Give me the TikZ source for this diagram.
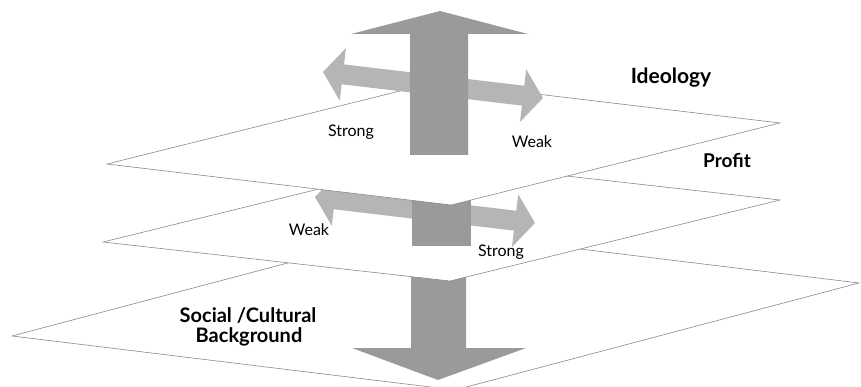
\documentclass[tikz,border=0pt]{standalone}
\usepackage{fontspec}
\setmainfont{Lato}
\begin{document}
\begin{tikzpicture}[x=1pt,y=-1pt,
  plane/.style={fill=white,draw=planeedge,line width=0.6pt,line join=miter},
  shaftarrow/.style={fill=arrowdark,draw=none},
  sidearrow/.style={fill=arrowlight,draw=none},
  levellabel/.style={font=\fontsize{19}{22}\selectfont\bfseries,anchor=base,inner sep=0pt},
  poslabel/.style={font=\fontsize{16}{18}\selectfont,anchor=base,inner sep=0pt}]
\definecolor{planeedge}{HTML}{8A8A8A}
\definecolor{arrowdark}{HTML}{9A9A9A}
\definecolor{arrowlight}{HTML}{B5B5B5}
\useasboundingbox (0,0) rectangle (861,387);

% bottom layer: social / cultural background
\coordinate (bL) at (12,336);  \coordinate (bF) at (455,390);
\coordinate (bR) at (859,283); \coordinate (bB) at (416,229);
\draw[plane] (bL) -- (bF) -- (bR) -- (bB) -- cycle;

% downward arrow below the middle layer
\fill[shaftarrow] (411,270) -- (411,348) -- (352,348) -- (438,380)
  -- (526,348) -- (466,348) -- (466,270) -- cycle;

% middle layer: profit
\coordinate (mL) at (103,242); \coordinate (mF) at (450,281);
\coordinate (mR) at (780,200); \coordinate (mB) at (433,161);
\draw[plane] (mL) -- (mF) -- (mR) -- (mB) -- cycle;

% double arrow resting on the middle layer
\begin{scope}[shift={(315,197)},rotate=-6.74]
  \fill[sidearrow] (0,0) -- (20,-26.5) -- (20,-10) -- (201.5,-10) -- (201.5,-26.5)
    -- (221.5,0) -- (201.5,26.5) -- (201.5,10) -- (20,10) -- (20,26.5) -- cycle;
\end{scope}
\fill[shaftarrow] (412,185) rectangle (471,246);

% top layer: ideology
\coordinate (tL) at (107,164); \coordinate (tF) at (451,205);
\coordinate (tR) at (780,123); \coordinate (tB) at (436,82);
\draw[plane] (tL) -- (tF) -- (tR) -- (tB) -- cycle;

% double arrow above the top layer
\begin{scope}[shift={(323,72)},rotate=-6.74]
  \fill[sidearrow] (0,0) -- (20,-26.5) -- (20,-10) -- (201.5,-10) -- (201.5,-26.5)
    -- (221.5,0) -- (201.5,26.5) -- (201.5,10) -- (20,10) -- (20,26.5) -- cycle;
\end{scope}

% upward arrow
\fill[shaftarrow] (410,155) -- (410,34) -- (351,34) -- (440,11)
  -- (528,34) -- (468,34) -- (468,155) -- cycle;

% labels
\node[levellabel,font=\fontsize{21}{24}\selectfont\bfseries] (ideology) at (671,84) {Ideology};
\node[levellabel] (profit) at (727,168) {Profit};
\node[levellabel,font=\fontsize{20}{23}\selectfont\bfseries] (social) at (248,322) {Social /Cultural};
\node[levellabel,font=\fontsize{20}{23}\selectfont\bfseries] (background) at (249,342) {Background};
\node[poslabel] (strongtop) at (351,137) {Strong};
\node[poslabel] (weaktop) at (532,148) {Weak};
\node[poslabel] (weakmid) at (309,236) {Weak};
\node[poslabel] (strongmid) at (501,256) {Strong};
\end{tikzpicture}
\end{document}
